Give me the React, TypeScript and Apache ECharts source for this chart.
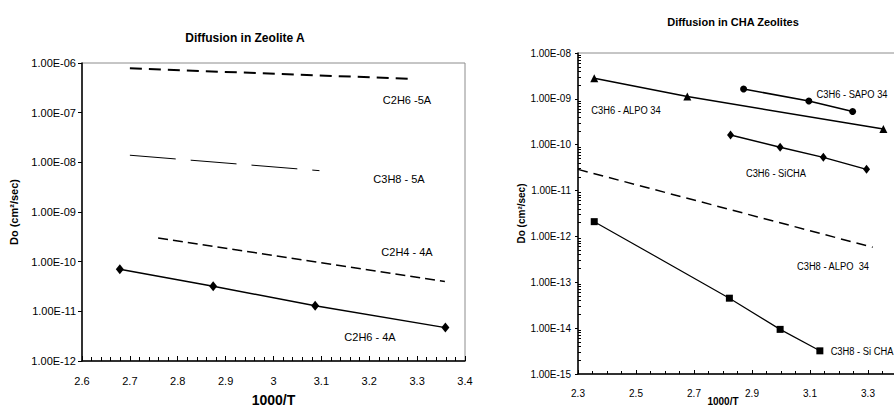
import React, { useEffect, useRef } from "react";
import * as echarts from "echarts";

// ---- Diffusion in Zeolite A ----
const c2h6_4a_x = [2.679, 2.874, 3.087, 3.359];
const c2h6_4a_y = [7.0e-11, 3.2e-11, 1.3e-11, 4.7e-12];
const c2h4_4a_x = [2.759, 3.358];
const c2h4_4a_y = [3.0e-10, 4.0e-11];
const c2h6_5a_x = [2.7, 3.286];
const c2h6_5a_y = [7.8e-7, 4.8e-7];
const c3h8_5a_x = [2.7, 3.096];
const c3h8_5a_y = [1.39e-8, 6.8e-9];

// ---- Diffusion in CHA Zeolites ----
const c3h6_alpo_x = [2.356, 2.677, 3.353];
const c3h6_alpo_y = [2.8e-9, 1.12e-9, 2.2e-10];
const c3h6_sapo_x = [2.871, 3.096, 3.247];
const c3h6_sapo_y = [1.64e-9, 9.0e-10, 5.3e-10];
const c3h6_sicha_x = [2.826, 2.997, 3.146, 3.295];
const c3h6_sicha_y = [1.63e-10, 8.8e-11, 5.3e-11, 2.9e-11];
const c3h8_alpo_x = [2.3, 3.316];
const c3h8_alpo_y = [2.9e-11, 5.8e-13];
const c3h8_sicha_x = [2.356, 2.822, 2.997, 3.134];
const c3h8_sicha_y = [2.1e-12, 4.5e-14, 9.4e-15, 3.2e-15];

const titles = ["Diffusion in Zeolite A", "Diffusion in CHA Zeolites"];
const yName = "Do (cm\u00b2/sec)";
const xName = "1000/T";

const pairs = (xs: number[], ys: number[]) => xs.map((x, i) => [x, ys[i]]);

const sciFmt = (v: number) => {
  const e = Math.round(Math.log10(v));
  const m = v / Math.pow(10, e);
  return `${m.toFixed(2)}E${e < 0 ? "-" : "+"}${String(Math.abs(e)).padStart(2, "0")}`;
};

// minor log ticks (2..9 × 10^e), expressed in log10 space for a linear helper axis
const minorLog10 = (lo: number, hi: number) => {
  const out: number[] = [];
  for (let e = lo; e < hi; e++) for (let k = 2; k <= 9; k++) out.push(e + Math.log10(k));
  return out;
};

const FONT_A = "'Liberation Sans', Arial, sans-serif";

export default function App() {
  const ref = useRef<HTMLDivElement>(null);
  useEffect(() => {
    if (!ref.current) return;
    const chart = echarts.init(ref.current, undefined, { renderer: "svg" });
    const black = "#000";
    const line = (xs: number[], ys: number[], xi: number, opts: any) => ({
      type: "line",
      xAxisIndex: xi,
      yAxisIndex: xi,
      data: pairs(xs, ys),
      symbol: "none",
      silent: true,
      ...opts,
    });
    const lbl = (text: string, x: number, y: number, size: number, sx = 1) => ({
      type: "text",
      x,
      y,
      scaleX: sx,
      style: {
        text,
        fill: black,
        font: `${size}px ${FONT_A}`,
        textAlign: "center",
        textVerticalAlign: "middle",
        align: "center",
        verticalAlign: "middle",
      },
    });
    chart.setOption({
      animation: false,
      backgroundColor: "#fff",
      title: [
        {
          text: titles[0],
          left: 240,
          top: 27,
          textAlign: "center",
          textStyle: { fontSize: 12, fontWeight: "bold", color: black, fontFamily: FONT_A },
        },
        {
          text: titles[1],
          left: 728,
          top: 11,
          textAlign: "center",
          textStyle: { fontSize: 11, fontWeight: "bold", color: black, fontFamily: FONT_A },
        },
      ],
      grid: [
        { left: 82, top: 63, width: 383, height: 298, show: true, borderColor: "#8c8c8c", borderWidth: 1, outerBoundsMode: "none", containLabel: false },
        { left: 578, top: 53, width: 319, height: 321, show: true, borderColor: "#8c8c8c", borderWidth: 1, outerBoundsMode: "none", containLabel: false },
      ],
      xAxis: [
        {
          gridIndex: 0,
          type: "value",
          min: 2.6,
          max: 3.4,
          interval: 0.1,
          name: xName,
          nameLocation: "middle",
          nameGap: 32,
          nameTextStyle: { fontSize: 14, fontWeight: "bold", color: black, fontFamily: FONT_A },
          axisLine: { lineStyle: { color: black, width: 1.5 } },
          axisTick: { inside: true, length: 5, lineStyle: { color: black } },
          minorTick: { show: true, splitNumber: 5, length: 4, lineStyle: { color: black } },
          splitLine: { show: false },
          axisLabel: { fontSize: 11, color: black, fontFamily: FONT_A, margin: 14, formatter: (v: number) => String(Number(v.toFixed(1))) },
        },
        {
          gridIndex: 1,
          type: "value",
          min: 2.3,
          max: 3.4,
          interval: 0.2,
          name: xName,
          nameLocation: "middle",
          nameGap: 22,
          nameMoveOverlap: false,
          nameTextStyle: { fontSize: 10, fontWeight: "bold", color: black, fontFamily: FONT_A, padding: [0, 29, 0, 0] },
          axisLine: { lineStyle: { color: black, width: 1.5 } },
          axisTick: { inside: true, length: 4, lineStyle: { color: black } },
          minorTick: { show: true, splitNumber: 4, length: 3, lineStyle: { color: black } },
          splitLine: { show: false },
          axisLabel: { fontSize: 10, color: black, fontFamily: FONT_A, margin: 14, showMaxLabel: false, formatter: (v: number) => String(Number(v.toFixed(1))) },
        },
      ],
      yAxis: [
        {
          gridIndex: 0,
          type: "log",
          logBase: 10,
          min: 1e-12,
          max: 1e-6,
          splitNumber: 6,
          name: yName,
          nameLocation: "middle",
          nameGap: 63,
          nameTextStyle: { fontSize: 11, fontWeight: "bold", color: black, fontFamily: FONT_A },
          axisLine: { show: true, lineStyle: { color: black, width: 1.5 } },
          axisTick: { show: true, inside: false, length: 4, lineStyle: { color: black } },
          splitLine: { show: false },
          axisLabel: { fontSize: 11, color: black, fontFamily: FONT_A, margin: 6, formatter: sciFmt },
        },
        {
          gridIndex: 1,
          type: "log",
          logBase: 10,
          min: 1e-15,
          max: 1e-8,
          splitNumber: 7,
          name: yName,
          nameLocation: "middle",
          nameGap: 46,
          nameTextStyle: { fontSize: 10, fontWeight: "bold", color: black, fontFamily: FONT_A },
          axisLine: { show: true, lineStyle: { color: black, width: 1.5 } },
          axisTick: { show: true, inside: false, length: 3, lineStyle: { color: black } },
          splitLine: { show: false },
          axisLabel: { fontSize: 10, color: black, fontFamily: FONT_A, margin: 7, formatter: sciFmt },
        },
        {
          gridIndex: 1,
          type: "value",
          min: -15,
          max: -8,
          position: "left",
          axisLine: { show: false },
          axisTick: { show: true, inside: true, length: 3, customValues: minorLog10(-15, -8), lineStyle: { color: black } },
          splitLine: { show: false },
          axisLabel: { show: false },
        },
      ],
      series: [
        line(c2h6_5a_x, c2h6_5a_y, 0, { lineStyle: { color: black, width: 2, type: [12, 7] } }),
        line(c3h8_5a_x, c3h8_5a_y, 0, { lineStyle: { color: black, width: 1, type: [46, 15] } }),
        line(c2h4_4a_x, c2h4_4a_y, 0, { lineStyle: { color: black, width: 1.5, type: [10, 5] } }),
        line(c2h6_4a_x, c2h6_4a_y, 0, {
          symbol: "diamond",
          symbolSize: [8, 10],
          itemStyle: { color: black },
          lineStyle: { color: black, width: 1.5 },
        }),
        line(c3h6_alpo_x, c3h6_alpo_y, 1, {
          symbol: "triangle",
          symbolSize: 8,
          itemStyle: { color: black },
          lineStyle: { color: black, width: 1.5 },
        }),
        line(c3h6_sapo_x, c3h6_sapo_y, 1, {
          symbol: "circle",
          symbolSize: 7,
          itemStyle: { color: black },
          lineStyle: { color: black, width: 1.5 },
        }),
        line(c3h6_sicha_x, c3h6_sicha_y, 1, {
          symbol: "diamond",
          symbolSize: [7, 9],
          itemStyle: { color: black },
          lineStyle: { color: black, width: 1.5 },
        }),
        line(c3h8_alpo_x, c3h8_alpo_y, 1, { lineStyle: { color: black, width: 1.5, type: [10, 6] } }),
        line(c3h8_sicha_x, c3h8_sicha_y, 1, {
          symbol: "rect",
          symbolSize: 7,
          itemStyle: { color: black },
          lineStyle: { color: black, width: 1.2 },
        }),
      ],
      graphic: [
        lbl("C2H6 -5A", 407, 100, 11),
        lbl("C3H8 - 5A", 399, 179, 11),
        lbl("C2H4 - 4A", 407, 252, 11),
        lbl("C2H6 - 4A", 370, 337, 11),
        lbl("C3H6 - ALPO 34", 626, 110, 11, 0.85),
        lbl("C3H6 - SAPO 34", 852, 94, 11, 0.85),
        lbl("C3H6 - SiCHA", 776, 173, 11, 0.85),
        lbl("C3H8 - ALPO  34", 833, 266, 11, 0.85),
        lbl("C3H8 - Si CHA", 862, 351, 11, 0.85),
      ],
    });
    return () => chart.dispose();
  }, []);
  return (
    <div style={{ position: "absolute", left: 0, top: 0, width: 894, height: 408, overflow: "hidden", background: "#fff" }}>
      <div ref={ref} style={{ width: 960, height: 408 }} />
    </div>
  );
}
